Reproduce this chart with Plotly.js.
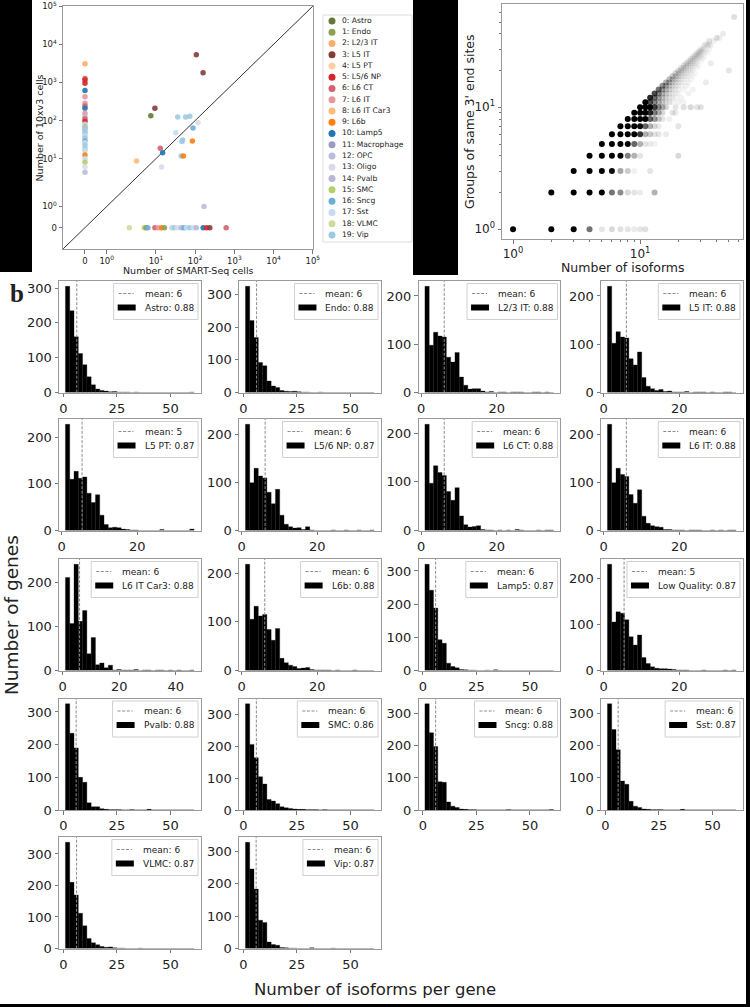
<!DOCTYPE html>
<html>
<head>
<meta charset="utf-8">
<script src="https://cdn.plot.ly/plotly-3.0.1.min.js"></script>
<style>body{margin:0;background:#fff}#fig{width:750px;height:1007px}</style>
</head>
<body>
<div id="fig"></div>
<script>
// ---------- panel a (left): cells per cluster, SMART-Seq vs 10xv3 ----------
var subclasses = ['Astro','Endo','L2/3 IT','L5 IT','L5 PT','L5/6 NP','L6 CT','L6 IT','L6 IT Car3','L6b',
  'Lamp5','Macrophage','OPC','Oligo','Pvalb','SMC','Sncg','Sst','VLMC','Vip'];
var subclassColors = ['#637939','#8ca252','#fdae6b','#843c39','#fdd0a2','#d62728','#d6616b','#e7969c','#ffbb78','#ff7f0e',
  '#1f77b4','#9e9ac8','#bcbddc','#dadaeb','#bab6da','#b5cf6b','#6baed6','#c6dbef','#cedb9c','#9ecae1'];

var smartseqCells = [0,0,0,0,0,0,0,0,0,0,0,0,0,0,0,0,0,0,0,0,0,0,0,0,0,0,0,0,0,0,0,
  107,159,9.4,7.4,36,57,73,88,118,32,46,48,85,44,50,12.9,14.8,3.2,13.9,168,
  2.1,5.1,5.6,6.2,9.4,11.5,14,16.5,25,29,35,44,52,60,73,89,107,160,195,236,617];
var tenxCells = [3090,1273,1150,944,610,423,285,241,209,155,126,110,94,80,70,65,60,52,45,39,35,29,26,22,18,16,12.4,10,8,6,4.4,
  5330,1790,209,133,124,124,130,64,89,48,28,31,29,11.8,11.8,18.7,14.3,8.7,6,1,
  0,0,0,0,0,0,0,0,0,0,0,0,0,0,0,0,0,0,0,0,0];
var clusterSubclass = [2,6,5,5,10,7,7,6,10,7,14,6,5,17,15,14,19,19,19,17,19,16,17,19,19,17,9,17,15,13,12,
  3,3,3,0,19,19,19,16,13,17,19,19,9,19,9,6,10,8,13,12,
  18,15,1,16,6,7,9,1,17,19,13,14,16,17,19,17,14,10,5,3,6];

// ---------- panel a (right): isoforms vs groups of same 3' end sites ----------
var groupLevels = [1,2,3,4,5,6,7,8,9,10,11,12,13,14,15,16,17,18,19,20,21,22,23,24,25,26,27,28,29,30,32,33,35,37,40,55];
var isoformsAtLevel = [
  [1,2,3,4,5,6,7,8,9,10,11],[2,3,4,5,6,7,8,9,10,13],[3,4,5,6,7,8,9,12],[4,5,6,7,8,9,10,20],
  [5,6,7,8,9,10,11,12,13],[6,7,8,9,10,11,12,13,14,16],[7,8,9,10,11,12,13,14,20],[8,9,10,11,12,13,14,15,17],
  [9,10,11,12,13,14,15,18,19],[10,11,12,13,14,15,16,19,22,25,28,30],[11,12,13,14,15,16,17,18,20,22],
  [12,13,14,15,16,17,18,19,21],[13,14,15,16,17,18,19,20,24],[14,15,16,17,18,19,20,22,26],
  [15,16,17,18,19,20,21,23],[16,17,18,19,20,21,22,24,33],[17,18,19,20,21,22,23,25],[18,19,20,21,22,23,24,26],
  [19,20,21,22,23,24,25,27],[20,21,22,23,24,25,26,50],[21,22,23,24,25,26,28],[22,23,24,25,26,27,29],
  [23,24,25,26,27,28,36],[24,25,26,27,28,30],[25,26,27,28,29,31],[26,27,28,29,30,32],[27,28,29,30,31],
  [28,29,30,32,34],[29,30,31,33],[30,31,32,35],[32,34,36],[33,35],[35,38],[40,42],[45],[55]];
var densityAtLevel = [
  [1,1,1,.55,.1,.15,.12,.1,.08,.1,.12],[1,1,1,1,.55,.45,.15,.1,.08,.3],[1,1,1,.95,.35,.2,.06,.1],[1,1,1,1,.5,.3,.1,.15],
  [1,1,1,1,.6,.3,.1,.08,.05],[1,1,1,1,.8,.3,.2,.1,.1,.08],[1,1,1,.95,.6,.3,.15,.08,.1],[1,1,1,1,.6,.4,.2,.1,.06],
  [1,1,1,.85,.5,.3,.15,.1,.08],[1,1,1,.75,.45,.3,.15,.1,.12,.15,.1,.12],[1,.7,.45,.28,.18,.1,.07,.05,.05,.05],
  [.85,.55,.32,.2,.12,.08,.05,.04,.05],[.7,.42,.25,.15,.09,.06,.04,.04,.05],[.55,.32,.2,.12,.07,.05,.04,.04,.05],
  [.42,.25,.15,.09,.06,.04,.03,.05],[.32,.2,.12,.08,.05,.04,.03,.04,.08],[.25,.16,.1,.07,.04,.03,.03,.04],[.2,.13,.09,.06,.04,.03,.03,.03],
  [.16,.11,.08,.05,.04,.03,.03,.03],[.13,.1,.07,.05,.03,.03,.03,.1],[.11,.08,.06,.04,.03,.03,.03],[.1,.07,.05,.04,.03,.03,.03],
  [.09,.07,.05,.04,.03,.03,.08],[.08,.06,.05,.03,.03,.03],[.08,.06,.04,.03,.03,.03],[.07,.05,.04,.03,.03,.03],[.07,.05,.04,.03,.03],
  [.07,.05,.04,.03,.03],[.06,.05,.04,.03],[.06,.05,.04,.04],[.08,.06,.05],[.07,.06],[.1,.06],[.1,.07],[.08],[.12]];

// ---------- panel b: isoforms per gene, per cluster ----------
var clusterNames = ['Astro','Endo','L2/3 IT','L5 IT','L5 PT','L5/6 NP','L6 CT','L6 IT','L6 IT Car3','L6b',
  'Lamp5','Low Quality','Pvalb','SMC','Sncg','Sst','VLMC','Vip'];
var clusterScores = ['0.88','0.88','0.88','0.88','0.87','0.87','0.88','0.88','0.88','0.88',
  '0.87','0.87','0.88','0.86','0.88','0.87','0.87','0.87'];
var meanIsoforms = [6.3,6.2,6.1,6.0,5.4,6.2,6.1,6.0,6.0,6.1,6.0,5.4,6.0,6.1,6.0,6.0,6.2,6.0];
var maxIsoforms = [61,61,35,35,35,35,35,35,46.5,35,61,35,61,61,61,61,61,61];
var geneCounts = [
  [305,235,160,112,80,45,22,10,6,4,2,3,1,1,1,0,1,0,0,0,0,0,0,0,0,0,0,0,0,1],
  [325,220,168,92,82,35,20,15,6,4,3,4,2,1,1,0,0,1,0,0,0,0,0,0,0,0,0,0,0,0],
  [220,98,125,117,115,73,63,83,32,15,7,8,8,3,1,2,0,1,1,0,1,1,1,0,0,1,1,0,1,0],
  [220,102,126,115,113,70,57,84,31,13,8,4,6,2,3,1,1,1,2,0,1,1,1,0,1,0,0,1,1,0],
  [228,110,127,112,115,80,60,77,33,13,6,7,6,3,2,1,1,0,0,0,0,0,2,0,0,0,0,0,0,3],
  [222,100,130,114,110,80,56,86,32,13,8,5,6,2,8,1,0,0,0,0,1,0,0,1,0,0,1,0,0,1],
  [218,97,133,119,113,80,62,88,30,12,7,8,10,2,1,1,0,1,0,1,0,2,1,0,0,0,1,0,1,1],
  [222,100,130,117,113,75,57,85,30,15,10,8,7,2,2,1,1,1,0,1,1,1,0,0,1,0,1,0,1,1],
  [212,107,242,112,137,38,75,13,17,6,12,1,2,1,1,1,2,0,1,1,0,1,1,0,1,0,1,0,0,1],
  [218,105,132,112,115,84,62,86,25,16,11,8,4,5,6,2,1,1,1,1,0,1,0,0,0,1,0,0,0,0],
  [320,242,188,93,82,22,12,8,3,2,1,1,0,0,1,0,2,0,0,0,0,0,0,0,0,0,0,0,0,0],
  [230,105,127,124,110,73,55,77,28,15,8,5,4,4,3,2,1,1,1,0,0,0,1,0,0,0,0,1,0,1],
  [325,235,190,100,85,22,10,10,4,2,1,1,1,0,0,1,0,0,0,2,0,0,0,0,0,0,0,0,0,0],
  [335,207,165,105,82,33,28,20,10,7,5,3,2,2,1,1,1,0,1,0,0,0,0,0,0,0,0,0,0,0],
  [330,240,197,88,86,25,12,8,3,2,1,1,0,0,0,0,0,0,0,1,0,0,0,0,0,0,0,0,0,1],
  [330,250,187,90,80,27,12,8,3,2,1,1,1,0,0,0,0,2,0,0,0,0,0,0,0,0,0,0,0,0],
  [337,210,170,112,72,32,18,12,6,4,5,2,1,1,0,0,0,1,0,0,0,0,0,0,0,0,0,0,0,0],
  [327,245,183,87,80,20,12,10,3,2,1,1,0,0,0,2,0,0,0,0,1,0,0,0,0,0,0,0,0,0]];

// ---------- helpers ----------
var W = 750, H = 1007;
function px(x) { return x / W; }
function py(y) { return 1 - y / H; }
// matplotlib symlog, linthresh 2
function symlog(v) {
  var t = 2, s = 1 / (1 - 1 / 10), a = Math.abs(v);
  if (a <= t) return v * s;
  return Math.sign(v) * t * (s + Math.log10(a / t));
}
var ctx = document.createElement('canvas').getContext('2d');
function textWidth(str, size) {
  ctx.font = size + 'px "DejaVu Sans"';
  return ctx.measureText(str).width;
}
var FONT = 'DejaVu Sans';
var TXT = '#222';
var FRAME = '#9a9a9a';

var data = [];
var layout = {
  width: W, height: H, margin: {l: 0, r: 0, t: 0, b: 0},
  paper_bgcolor: 'white', plot_bgcolor: 'white', showlegend: false,
  font: {family: FONT, color: TXT}, bargap: 0,
  shapes: [], annotations: []
};

function frameAxis(extra) {
  var a = {showline: true, mirror: true, linecolor: FRAME, linewidth: 1, showgrid: false, zeroline: false,
    ticks: 'outside', ticklen: 3.5, tickwidth: 0.8, tickcolor: '#555', ticklabeloverflow: 'allow'};
  for (var k in extra) a[k] = extra[k];
  return a;
}

// left scatter
var symTicks = [0, 1, 10, 100, 1e3, 1e4, 1e5];
var symText = ['0', '10<sup>0</sup>', '10<sup>1</sup>', '10<sup>2</sup>', '10<sup>3</sup>', '10<sup>4</sup>', '10<sup>5</sup>'];
var symRange = [symlog(-1) - 0.01, symlog(1e5) + 0.01];
data.push({
  type: 'scatter', mode: 'lines', x: [-1, 1e5].map(symlog), y: [-1, 1e5].map(symlog),
  line: {color: '#333', width: 1}, xaxis: 'x', yaxis: 'y', hoverinfo: 'skip'
});
data.push({
  type: 'scatter', mode: 'markers', x: smartseqCells.map(symlog), y: tenxCells.map(symlog),
  marker: {size: 5.5, color: clusterSubclass.map(function (i) { return subclassColors[i]; }), opacity: 0.9},
  xaxis: 'x', yaxis: 'y'
});
layout.xaxis = frameAxis({domain: [px(63), px(313)], range: symRange, anchor: 'y',
  tickvals: symTicks.map(symlog), ticktext: symText, tickfont: {size: 8.5, color: TXT}});
layout.yaxis = frameAxis({domain: [py(249), py(6)], range: symRange, anchor: 'x',
  tickvals: symTicks.map(symlog), ticktext: symText, tickfont: {size: 8.5, color: TXT}});

// legend of the left scatter
var legIdx = subclasses.map(function (s, i) { return i; });
data.push({
  type: 'scatter', mode: 'markers', x: legIdx.map(function () { return 0; }), y: legIdx,
  marker: {size: 7, color: subclassColors}, xaxis: 'x3', yaxis: 'y3', hoverinfo: 'skip'
});
data.push({
  type: 'scatter', mode: 'text', x: legIdx.map(function () { return 10; }), y: legIdx,
  text: subclasses.map(function (s, i) { return i + ': ' + s; }), textposition: 'middle right',
  textfont: {size: 7.6, color: TXT, family: FONT}, xaxis: 'x3', yaxis: 'y3', hoverinfo: 'skip'
});
layout.xaxis3 = {domain: [px(323), px(412)], range: [-9, 80], visible: false, anchor: 'y3'};
layout.yaxis3 = {domain: [py(242), py(15)], range: [19.63, -0.53], visible: false, anchor: 'x3'};
layout.shapes.push({type: 'rect', xref: 'paper', yref: 'paper', x0: px(323), x1: px(412), y0: py(242), y1: py(15),
  line: {color: '#dcdcdc', width: 1}});

// right scatter
var isoX = [], grpY = [], dens = [];
groupLevels.forEach(function (g, i) {
  isoformsAtLevel[i].forEach(function (n, j) { isoX.push(n); grpY.push(g); dens.push(densityAtLevel[i][j]); });
});
data.push({
  type: 'scatter', mode: 'markers', x: isoX, y: grpY,
  marker: {size: 6, color: 'black', opacity: dens}, xaxis: 'x2', yaxis: 'y2'
});
var minorLog = [2, 3, 4, 5, 6, 7, 8, 9, 20, 30, 40, 50, 60];
layout.xaxis2 = frameAxis({domain: [px(502), px(743)], type: 'log', range: [-0.087, 1.81], anchor: 'y2',
  tickvals: [1, 10], ticktext: ['10<sup>0</sup>', '10<sup>1</sup>'], tickfont: {size: 12, color: TXT},
  minor: {ticks: 'outside', ticklen: 2, tickcolor: '#555', tickvals: minorLog}});
layout.yaxis2 = frameAxis({domain: [py(239), py(4)], type: 'log', range: [-0.08, 1.847], anchor: 'x2',
  tickvals: [1, 10], ticktext: ['10<sup>0</sup>', '10<sup>1</sup>'], tickfont: {size: 12, color: TXT},
  minor: {ticks: 'outside', ticklen: 2, tickcolor: '#555', tickvals: minorLog}});

// histograms grid
var colLeft = [59, 239, 418.5, 601], colW = 141.5;
var rowTop = [281, 419, 559, 698.5, 837], rowH = 111.5;
clusterNames.forEach(function (name, k) {
  var n = k + 4, c = k % 4, r = Math.floor(k / 4);
  var lo = 1, hi = maxIsoforms[k], bw = (hi - lo) / 30, pad = 0.05 * (hi - lo);
  var centers = geneCounts[k].map(function (v, i) { return lo + (i + 0.5) * bw; });
  data.push({
    type: 'bar', x: centers, y: geneCounts[k], width: bw,
    marker: {color: 'black', line: {color: 'black', width: 0.3}},
    xaxis: 'x' + n, yaxis: 'y' + n, hoverinfo: 'skip'
  });
  var L = colLeft[c], T = rowTop[r];
  var ymax = Math.max.apply(null, geneCounts[k]) * 1.05;
  layout['xaxis' + n] = frameAxis({domain: [px(L), px(L + colW)], range: [lo - pad, hi + pad], anchor: 'y' + n,
    tick0: 0, dtick: hi > 55 ? 25 : 20, tickfont: {size: 13, color: TXT}});
  layout['yaxis' + n] = frameAxis({domain: [py(T + rowH), py(T)], range: [0, ymax], anchor: 'x' + n,
    tick0: 0, dtick: 100, tickfont: {size: 13, color: TXT}});
  // mean line
  layout.shapes.push({type: 'line', xref: 'x' + n, yref: 'y' + n + ' domain', x0: meanIsoforms[k], x1: meanIsoforms[k],
    y0: 0, y1: 1, line: {color: '#8c8c8c', width: 1, dash: '3px,1.6px'}});
  // legend box
  var meanLabel = 'mean: ' + Math.floor(meanIsoforms[k]);
  var clLabel = name + ': ' + clusterScores[k];
  var tw = Math.max(textWidth(meanLabel, 9), textWidth(clLabel, 9));
  var right = L + colW - 2.5, top = T + 2.5, bw2 = tw + 35, bl = right - bw2;
  layout.shapes.push({type: 'rect', xref: 'paper', yref: 'paper', x0: px(bl), x1: px(right), y0: py(top + 36), y1: py(top),
    line: {color: '#d0d0d0', width: 1}, fillcolor: 'rgba(255,255,255,0.85)'});
  layout.shapes.push({type: 'line', xref: 'paper', yref: 'paper', x0: px(bl + 5), x1: px(bl + 20), y0: py(top + 10), y1: py(top + 10),
    line: {color: '#8c8c8c', width: 1, dash: '3px,1.6px'}});
  layout.shapes.push({type: 'rect', xref: 'paper', yref: 'paper', x0: px(bl + 4), x1: px(bl + 22), y0: py(top + 27), y1: py(top + 21),
    line: {width: 0}, fillcolor: 'black'});
  layout.annotations.push({xref: 'paper', yref: 'paper', x: px(bl + 29), y: py(top + 10), xanchor: 'left', yanchor: 'middle',
    text: meanLabel, showarrow: false, font: {size: 9, color: TXT}});
  layout.annotations.push({xref: 'paper', yref: 'paper', x: px(bl + 29), y: py(top + 24), xanchor: 'left', yanchor: 'middle',
    text: clLabel, showarrow: false, font: {size: 9, color: TXT}});
});

// black areas of the composite figure
[[0, 0, 32, 272], [413, 0, 458, 275], [746, 0, 750, 1007], [0, 1004, 750, 1007]].forEach(function (b) {
  layout.shapes.push({type: 'rect', xref: 'paper', yref: 'paper', x0: px(b[0]), x1: px(b[2]), y0: py(b[3]), y1: py(b[1]),
    line: {width: 0}, fillcolor: 'black', layer: 'above'});
});

// titles
function note(text, x, y, size, angle, family) {
  layout.annotations.push({xref: 'paper', yref: 'paper', x: px(x), y: py(y), xanchor: 'center', yanchor: 'middle',
    text: text, showarrow: false, textangle: angle || 0, font: {size: size, color: TXT, family: family || FONT}});
}
note('Number of 10xv3 cells', 38.5, 128, 9.5, -90);
note('Number of SMART-Seq cells', 188, 270.5, 9.5);
note("Groups of same 3' end sites", 470, 122, 12.5, -90);
note('Number of isoforms', 622.5, 267.5, 12.5);
note('<b>b</b>', 17, 293, 25, 0, 'Liberation Serif');
note('Number of genes', 11, 615, 18.5, -90);
note('Number of isoforms per gene', 375, 989, 16.5);

Plotly.newPlot('fig', data, layout, {staticPlot: true});
</script>
</body>
</html>
